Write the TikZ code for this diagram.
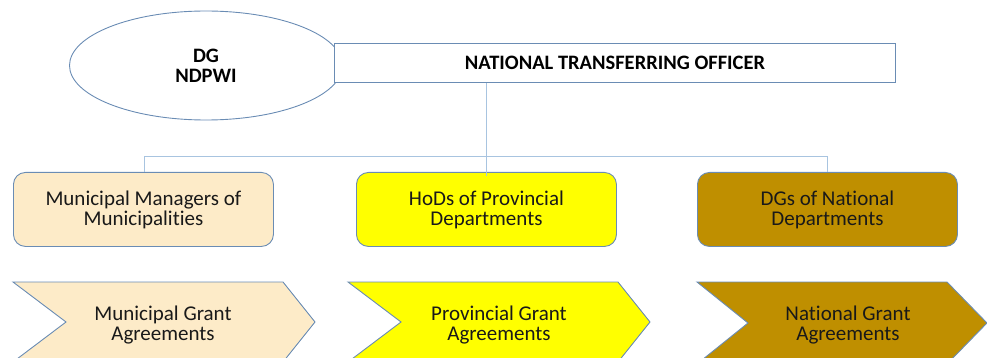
\documentclass[tikz,border=0pt]{standalone}
\usepackage{fontspec}
\setmainfont{Carlito}[Ligatures=NoCommon]
\usetikzlibrary{shapes.geometric}
\definecolor{edge}{HTML}{6A8CB4}
\definecolor{link}{HTML}{A8C4E0}
\definecolor{cream}{HTML}{FDEBC8}
\definecolor{yel}{HTML}{FFFF00}
\definecolor{gold}{HTML}{BF8F00}
\begin{document}
\begin{tikzpicture}[x=1pt,y=-1pt,
  boxstyle/.style={draw=edge,line width=0.9pt,rounded corners=12pt,minimum width=260pt,minimum height=74pt,inner sep=0pt,align=center,font=\fontsize{21}{20}\selectfont,text=black!90},
  chev/.style={draw=edge,line width=0.9pt},
  chevtext/.style={align=center,font=\fontsize{21}{20}\selectfont,text=black!90},
  linkline/.style={draw=link,line width=0.8pt}]
\useasboundingbox (0,0) rectangle (987,358);
% ellipse
\node[draw=edge,line width=0.9pt,ellipse,minimum width=273pt,minimum height=109pt,inner sep=0pt,align=center,font=\bfseries\fontsize{20.5}{20}\selectfont] (dg) at (206,65.5) {DG\\NDPWI};
\node[draw=edge,fill=white,line width=0.9pt,minimum width=561pt,minimum height=39pt,inner sep=0pt,anchor=north west] (nto) at (334,43) {};
\node[font=\bfseries\fontsize{20.5}{20}\selectfont] (ntotext) at (615,63) {NATIONAL TRANSFERRING OFFICER};
% boxes
\node[boxstyle,fill=cream,anchor=north west] (mm) at (13,172) {Municipal Managers of\\Municipalities};
\node[boxstyle,fill=yel,anchor=north west] (hod) at (356,172) {HoDs of Provincial\\Departments};
\node[boxstyle,fill=gold,anchor=north west] (dgs) at (697,172) {DGs of National\\Departments};
% connectors
\coordinate (j) at (486,156);
\draw[linkline] (nto.south -| j) -- (j);
\draw[linkline] (j) -- (144,156) coordinate (jl) -- (jl |- mm.north);
\draw[linkline] (j) -- (827,156) coordinate (jr) -- (jr |- dgs.north);
\draw[linkline] (j) -- (486,176);
% chevrons
\draw[chev,fill=cream] (13,282) -- (283,282) -- (315,322) -- (283,362) -- (13,362) -- (66,322) -- cycle;
\draw[chev,fill=yel] (348,282) -- (618,282) -- (650,322) -- (618,362) -- (348,362) -- (401,322) -- cycle;
\draw[chev,fill=gold] (697,282) -- (947,282) -- (987,323) -- (947,364) -- (697,364) -- (748,323) -- cycle;
\node[chevtext] (mga) at (163,325) {Municipal Grant\\Agreements};
\node[chevtext] (pga) at (499,325) {Provincial Grant\\Agreements};
\node[chevtext] (nga) at (848,325) {National Grant\\Agreements};
\end{tikzpicture}
\end{document}
